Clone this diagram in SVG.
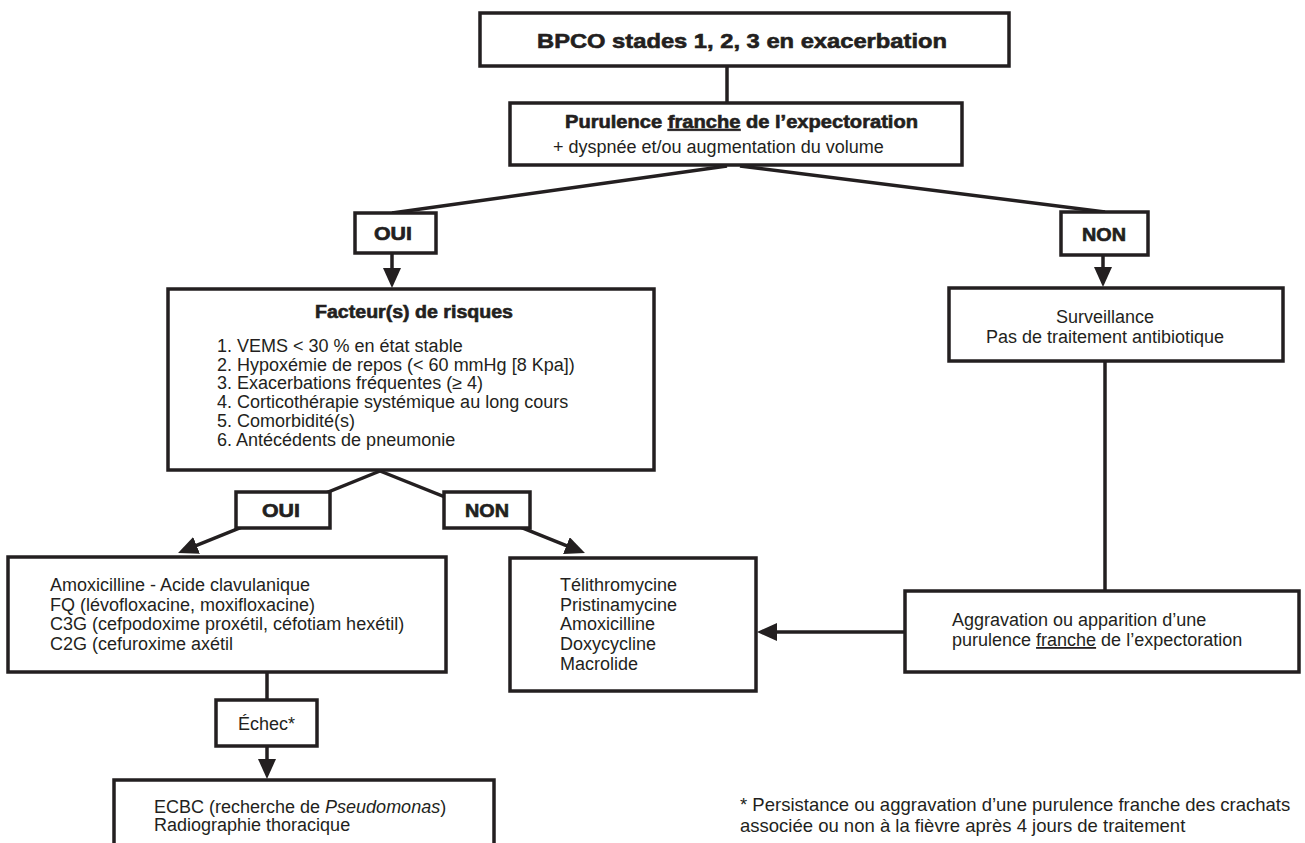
<svg xmlns="http://www.w3.org/2000/svg" width="1305" height="843" viewBox="0 0 1305 843">
<style>
.box{fill:#fff;stroke:#231f20;stroke-width:3.5}
.ln{fill:none;stroke:#231f20;stroke-width:3.5}
.arr{fill:none;stroke:#231f20;stroke-width:3.5;marker-end:url(#ah)}
text{font-family:"Liberation Sans",Arial,Helvetica,sans-serif;fill:#231f20}
.t{font-size:18px}
.hv{font-size:18px;font-weight:bold;stroke:#231f20;stroke-width:0.6}
.mid{text-anchor:middle}
.u{text-decoration:underline}
</style>
<defs>
<marker id="ah" viewBox="0 0 20 18" refX="14" refY="9" markerWidth="20" markerHeight="18" markerUnits="userSpaceOnUse" orient="auto">
<path d="M0,0 L20,9 L0,18 z" fill="#231f20"/>
</marker>
</defs>
<g id="connectors">
<line class="ln" x1="727" y1="66" x2="727" y2="103"/>
<line class="ln" x1="727" y1="166" x2="392" y2="213"/>
<line class="ln" x1="740" y1="166" x2="1105" y2="212"/>
<line class="arr" x1="392" y1="253" x2="392" y2="282"/>
<line class="arr" x1="1103" y1="255" x2="1103" y2="281"/>
<line class="arr" x1="380" y1="471" x2="183.6" y2="550.7"/>
<line class="arr" x1="380" y1="471" x2="579.4" y2="550.8"/>
<line class="ln" x1="1105" y1="361" x2="1105" y2="591"/>
<line class="arr" x1="905" y1="632" x2="763" y2="632"/>
<line class="ln" x1="267" y1="672" x2="267" y2="700"/>
<line class="arr" x1="267" y1="746" x2="267" y2="773"/>
</g>
<g id="n-top">
<rect class="box" x="480" y="13" width="529" height="53"/>
<text class="hv mid" x="742" y="48" textLength="410" lengthAdjust="spacingAndGlyphs" style="font-size:21px">BPCO stades 1, 2, 3 en exacerbation</text>
</g>
<g id="n-purulence">
<rect class="box" x="510" y="103" width="452" height="62"/>
<text class="hv mid" x="741.5" y="128" textLength="353" lengthAdjust="spacingAndGlyphs">Purulence <tspan class="u">franche</tspan> de l’expectoration</text>
<text class="t" x="553" y="153">+ dyspnée et/ou augmentation du volume</text>
</g>
<g id="n-oui1">
<rect class="box" x="355" y="213" width="81" height="40"/>
<text class="hv mid" x="393" y="240" textLength="38" lengthAdjust="spacingAndGlyphs">OUI</text>
</g>
<g id="n-non1">
<rect class="box" x="1061" y="212" width="87" height="43"/>
<text class="hv mid" x="1104" y="241" textLength="44" lengthAdjust="spacingAndGlyphs">NON</text>
</g>
<g id="n-facteur">
<rect class="box" x="168" y="289" width="486" height="181"/>
<text class="hv" x="315" y="318" textLength="198" lengthAdjust="spacingAndGlyphs">Facteur(s) de risques</text>
<text class="t" x="217" y="352">1. VEMS &lt; 30 % en état stable</text>
<text class="t" x="217" y="370.5">2. Hypoxémie de repos (&lt; 60 mmHg [8 Kpa])</text>
<text class="t" x="217" y="389">3. Exacerbations fréquentes (≥ 4)</text>
<text class="t" x="217" y="408">4. Corticothérapie systémique au long cours</text>
<text class="t" x="217" y="427">5. Comorbidité(s)</text>
<text class="t" x="217" y="446">6. Antécédents de pneumonie</text>
</g>
<g id="n-surveillance">
<rect class="box" x="949" y="288" width="334" height="73"/>
<text class="t mid" x="1105" y="323">Surveillance</text>
<text class="t mid" x="1105" y="343">Pas de traitement antibiotique</text>
</g>
<g id="n-oui2">
<rect class="box" x="236" y="492" width="94" height="36"/>
<text class="hv mid" x="281" y="517" textLength="38" lengthAdjust="spacingAndGlyphs">OUI</text>
</g>
<g id="n-non2">
<rect class="box" x="444" y="492" width="86" height="36"/>
<text class="hv mid" x="487" y="517" textLength="44" lengthAdjust="spacingAndGlyphs">NON</text>
</g>
<g id="n-amox">
<rect class="box" x="8" y="557" width="438" height="115"/>
<text class="t" x="50" y="591">Amoxicilline - Acide clavulanique</text>
<text class="t" x="50" y="610.5">FQ (lévofloxacine, moxifloxacine)</text>
<text class="t" x="50" y="630">C3G (cefpodoxime proxétil, céfotiam hexétil)</text>
<text class="t" x="50" y="650">C2G (cefuroxime axétil</text>
</g>
<g id="n-telithro">
<rect class="box" x="510" y="558" width="246" height="133"/>
<text class="t" x="560" y="591">Télithromycine</text>
<text class="t" x="560" y="610.5">Pristinamycine</text>
<text class="t" x="560" y="630">Amoxicilline</text>
<text class="t" x="560" y="650">Doxycycline</text>
<text class="t" x="560" y="669.5">Macrolide</text>
</g>
<g id="n-aggravation">
<rect class="box" x="905" y="591" width="394" height="81"/>
<text class="t" x="952" y="626">Aggravation ou apparition d’une</text>
<text class="t" x="952" y="646">purulence <tspan class="u">franche</tspan> de l’expectoration</text>
</g>
<g id="n-echec">
<rect class="box" x="216" y="700" width="101" height="46"/>
<text class="t mid" x="266.5" y="729.5">Échec*</text>
</g>
<g id="n-ecbc">
<rect class="box" x="114" y="780" width="380" height="80"/>
<text class="t" x="154" y="813">ECBC (recherche de <tspan font-style="italic">Pseudomonas</tspan>)</text>
<text class="t" x="154" y="831">Radiographie thoracique</text>
</g>
<g id="footnote">
<text class="t" x="740" y="811" style="font-size:18.5px">* Persistance ou aggravation d’une purulence franche des crachats</text>
<text class="t" x="740" y="832" style="font-size:18.5px">associée ou non à la fièvre après 4 jours de traitement</text>
</g>
</svg>
